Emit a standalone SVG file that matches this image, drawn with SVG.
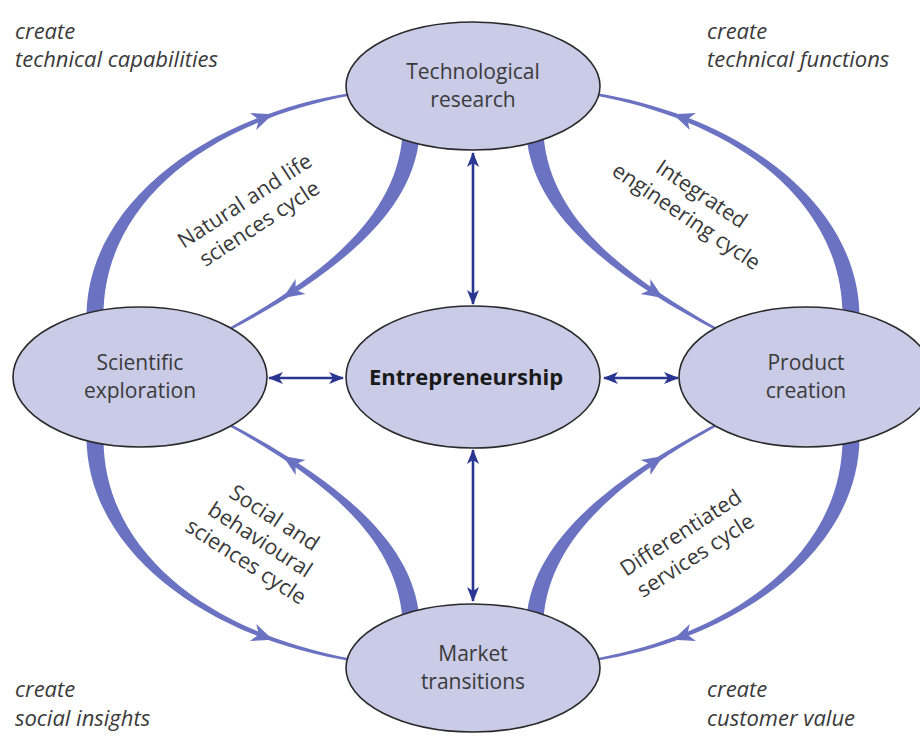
<svg xmlns="http://www.w3.org/2000/svg" xmlns:xlink="http://www.w3.org/1999/xlink" width="920" height="736" viewBox="0 0 920 736">
  <style>
    .node { fill: #c9cbe7; stroke: #2a2a2a; stroke-width: 1.6; }
    .label { font-family: "Open Sans", "Noto Sans", "Liberation Sans", sans-serif; font-size: 21px; fill: #3a3a3a; text-anchor: middle; }
    .core { font-family: "Open Sans", "Noto Sans", "Liberation Sans", sans-serif; font-size: 22px; font-weight: bold; fill: #1a1a1a; text-anchor: middle; }
    .cycle-label { font-family: "Open Sans", "Noto Sans", "Liberation Sans", sans-serif; font-size: 21.5px; fill: #3a3a3a; text-anchor: middle; }
    .corner { font-family: "Open Sans", "Noto Sans", "Liberation Sans", sans-serif; font-size: 22px; font-style: italic; fill: #3a3a3a; }
    .taper, .head { fill: #6b72c2; }
    .link { stroke: #2b3592; stroke-width: 2.6; fill: none; marker-start: url(#dart); marker-end: url(#dart); }
  </style>
  <defs>
    <marker id="dart" viewBox="0 0 15 12" refX="14" refY="6" markerWidth="15" markerHeight="12" markerUnits="userSpaceOnUse" orient="auto-start-reverse">
      <path d="M0,0 L15,6 L0,12 L4,6 Z" fill="#2b3592"/>
    </marker>
    <path id="head" class="head" d="M2,0 L-19,-9 L-13,0 L-19,9 Z"/>
    <!-- one tapering loop between a corner node pair; mirrored for the other three -->
    <g id="loop">
      <path class="taper" d="M86.5,318 C86,205 204.4,116 351.8,92.8 L352.2,95.2 C205.6,122 102,205 103.5,318 Z"/>
      <use xlink:href="#head" href="#head" transform="translate(271,115) rotate(-20)"/>
      <path class="taper" d="M419.5,135.7 C413,215.6 331.4,277.6 226.6,332.1 L225.4,329.9 C328.6,272.4 397,214.4 402.5,134.3 Z"/>
      <use xlink:href="#head" href="#head" transform="translate(284.6,296.8) rotate(147)"/>
    </g>
  </defs>

  <rect width="920" height="736" fill="#ffffff"/>

  <g id="connectors">
    <use id="loop-natural" xlink:href="#loop" href="#loop"/>
    <use id="loop-engineering" xlink:href="#loop" href="#loop" transform="translate(946,0) scale(-1,1)"/>
    <use id="loop-social" xlink:href="#loop" href="#loop" transform="translate(0,754) scale(1,-1)"/>
    <use id="loop-services" xlink:href="#loop" href="#loop" transform="translate(946,754) scale(-1,-1)"/>
    <line class="link" x1="473" y1="153" x2="473" y2="304"/>
    <line class="link" x1="473" y1="450" x2="473" y2="601"/>
    <line class="link" x1="269" y1="378" x2="343" y2="378"/>
    <line class="link" x1="604" y1="378" x2="678" y2="378"/>
  </g>

  <g id="node-research">
    <ellipse class="node" cx="473" cy="86" rx="127" ry="64"/>
    <text class="label" x="473" y="79">Technological</text>
    <text class="label" x="473" y="107">research</text>
  </g>
  <g id="node-exploration">
    <ellipse class="node" cx="140" cy="377" rx="127" ry="70"/>
    <text class="label" x="140" y="370">Scientific</text>
    <text class="label" x="140" y="398">exploration</text>
  </g>
  <g id="node-entrepreneurship">
    <ellipse class="node" cx="473" cy="377" rx="127" ry="71"/>
    <text class="core" x="466" y="385">Entrepreneurship</text>
  </g>
  <g id="node-product">
    <ellipse class="node" cx="806" cy="377" rx="127" ry="70"/>
    <text class="label" x="806" y="370">Product</text>
    <text class="label" x="806" y="398">creation</text>
  </g>
  <g id="node-market">
    <ellipse class="node" cx="473" cy="668" rx="127" ry="64"/>
    <text class="label" x="473" y="661">Market</text>
    <text class="label" x="473" y="689">transitions</text>
  </g>

  <g id="cycle-labels">
    <text class="cycle-label" transform="translate(252,212) rotate(-33)"><tspan x="0" y="-6">Natural and life</tspan><tspan x="0" y="21">sciences cycle</tspan></text>
    <text class="cycle-label" transform="translate(694,205) rotate(34)"><tspan x="0" y="-6">Integrated</tspan><tspan x="0" y="21">engineering cycle</tspan></text>
    <text class="cycle-label" transform="translate(260,540) rotate(33)"><tspan x="0" y="-19">Social and</tspan><tspan x="0" y="7">behavioural</tspan><tspan x="0" y="33">sciences cycle</tspan></text>
    <text class="cycle-label" transform="translate(688,544) rotate(-33)"><tspan x="0" y="-6">Differentiated</tspan><tspan x="0" y="21">services cycle</tspan></text>
  </g>

  <g id="outcomes">
    <text class="corner" x="15" y="39">create</text>
    <text class="corner" x="15" y="67">technical capabilities</text>
    <text class="corner" x="707" y="39">create</text>
    <text class="corner" x="707" y="67">technical functions</text>
    <text class="corner" x="15" y="697">create</text>
    <text class="corner" x="15" y="726">social insights</text>
    <text class="corner" x="707" y="697">create</text>
    <text class="corner" x="707" y="726">customer value</text>
  </g>
</svg>
